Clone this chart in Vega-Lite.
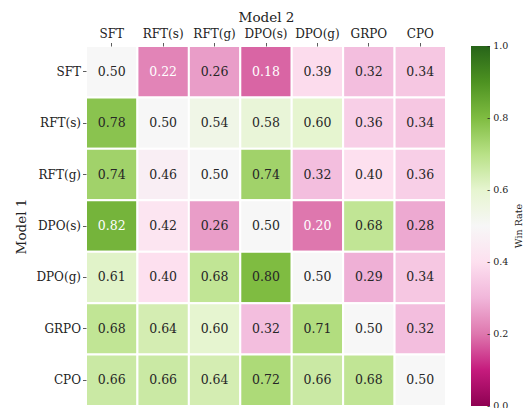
{
  "$schema": "https://vega.github.io/schema/vega-lite/v6.json",
  "width": 360,
  "height": 360,
  "padding": {"left": 14, "top": 10, "right": 0, "bottom": 0},
  "data": {"values": [
    {"m1": "SFT", "m2": "SFT", "v": 0.50}, {"m1": "SFT", "m2": "RFT(s)", "v": 0.22}, {"m1": "SFT", "m2": "RFT(g)", "v": 0.26}, {"m1": "SFT", "m2": "DPO(s)", "v": 0.18}, {"m1": "SFT", "m2": "DPO(g)", "v": 0.39}, {"m1": "SFT", "m2": "GRPO", "v": 0.32}, {"m1": "SFT", "m2": "CPO", "v": 0.34},
    {"m1": "RFT(s)", "m2": "SFT", "v": 0.78}, {"m1": "RFT(s)", "m2": "RFT(s)", "v": 0.50}, {"m1": "RFT(s)", "m2": "RFT(g)", "v": 0.54}, {"m1": "RFT(s)", "m2": "DPO(s)", "v": 0.58}, {"m1": "RFT(s)", "m2": "DPO(g)", "v": 0.60}, {"m1": "RFT(s)", "m2": "GRPO", "v": 0.36}, {"m1": "RFT(s)", "m2": "CPO", "v": 0.34},
    {"m1": "RFT(g)", "m2": "SFT", "v": 0.74}, {"m1": "RFT(g)", "m2": "RFT(s)", "v": 0.46}, {"m1": "RFT(g)", "m2": "RFT(g)", "v": 0.50}, {"m1": "RFT(g)", "m2": "DPO(s)", "v": 0.74}, {"m1": "RFT(g)", "m2": "DPO(g)", "v": 0.32}, {"m1": "RFT(g)", "m2": "GRPO", "v": 0.40}, {"m1": "RFT(g)", "m2": "CPO", "v": 0.36},
    {"m1": "DPO(s)", "m2": "SFT", "v": 0.82}, {"m1": "DPO(s)", "m2": "RFT(s)", "v": 0.42}, {"m1": "DPO(s)", "m2": "RFT(g)", "v": 0.26}, {"m1": "DPO(s)", "m2": "DPO(s)", "v": 0.50}, {"m1": "DPO(s)", "m2": "DPO(g)", "v": 0.20}, {"m1": "DPO(s)", "m2": "GRPO", "v": 0.68}, {"m1": "DPO(s)", "m2": "CPO", "v": 0.28},
    {"m1": "DPO(g)", "m2": "SFT", "v": 0.61}, {"m1": "DPO(g)", "m2": "RFT(s)", "v": 0.40}, {"m1": "DPO(g)", "m2": "RFT(g)", "v": 0.68}, {"m1": "DPO(g)", "m2": "DPO(s)", "v": 0.80}, {"m1": "DPO(g)", "m2": "DPO(g)", "v": 0.50}, {"m1": "DPO(g)", "m2": "GRPO", "v": 0.29}, {"m1": "DPO(g)", "m2": "CPO", "v": 0.34},
    {"m1": "GRPO", "m2": "SFT", "v": 0.68}, {"m1": "GRPO", "m2": "RFT(s)", "v": 0.64}, {"m1": "GRPO", "m2": "RFT(g)", "v": 0.60}, {"m1": "GRPO", "m2": "DPO(s)", "v": 0.32}, {"m1": "GRPO", "m2": "DPO(g)", "v": 0.71}, {"m1": "GRPO", "m2": "GRPO", "v": 0.50}, {"m1": "GRPO", "m2": "CPO", "v": 0.32},
    {"m1": "CPO", "m2": "SFT", "v": 0.66}, {"m1": "CPO", "m2": "RFT(s)", "v": 0.66}, {"m1": "CPO", "m2": "RFT(g)", "v": 0.64}, {"m1": "CPO", "m2": "DPO(s)", "v": 0.72}, {"m1": "CPO", "m2": "DPO(g)", "v": 0.66}, {"m1": "CPO", "m2": "GRPO", "v": 0.68}, {"m1": "CPO", "m2": "CPO", "v": 0.50}
  ]},
  "encoding": {
    "x": {"field": "m2", "type": "nominal", "sort": ["SFT", "RFT(s)", "RFT(g)", "DPO(s)", "DPO(g)", "GRPO", "CPO"], "title": "Model 2",
      "axis": {"orient": "top", "labelAngle": 0, "labelPadding": 2, "titlePadding": 3}},
    "y": {"field": "m1", "type": "nominal", "sort": ["SFT", "RFT(s)", "RFT(g)", "DPO(s)", "DPO(g)", "GRPO", "CPO"], "title": "Model 1",
      "axis": {"labelPadding": 2, "titlePadding": 7}}
  },
  "layer": [
    {
      "mark": {"type": "rect", "stroke": "white", "strokeWidth": 2},
      "encoding": {
        "color": {"field": "v", "type": "quantitative",
          "scale": {"domain": [0, 0.1, 0.2, 0.3, 0.4, 0.5, 0.6, 0.7, 0.8, 0.9, 1.0],
            "range": ["#8e0152", "#c51b7d", "#de77ae", "#f1b6da", "#fde0ef", "#f7f7f7", "#e6f5d0", "#b8e186", "#7fbc41", "#4d9221", "#276419"],
            "interpolate": "rgb"},
          "legend": {"title": "Win Rate", "values": [0, 0.2, 0.4, 0.6, 0.8, 1.0], "format": ".1f",
            "labelExpr": "'- ' + datum.label",
            "gradientLength": 360, "gradientThickness": 19, "gradientStrokeWidth": 0,
            "offset": 25, "labelOffset": -3, "labelFontSize": 9.5, "labelColor": "#222",
            "titleOrient": "right", "titleAnchor": "middle", "titleFontSize": 9.5, "titleFontWeight": "normal", "titleColor": "#222", "titlePadding": 6,
            "encode": {
              "title": {"update": {"angle": {"value": -90}, "align": {"value": "center"}, "baseline": {"value": "top"}}},
              "labels": {"update": {"baseline": {"value": "middle"}}}
            }}
        }
      }
    },
    {
      "mark": {"type": "text", "fontSize": 12.5},
      "encoding": {
        "text": {"field": "v", "type": "quantitative", "format": ".2f"},
        "color": {"condition": {"test": "datum.v < 0.24 || datum.v > 0.81", "value": "white"}, "value": "#262626"}
      }
    }
  ],
  "config": {
    "font": "DejaVu Serif",
    "view": {"stroke": null},
    "axis": {"domain": false, "tickSize": 3.5, "tickWidth": 0.8, "tickColor": "#333", "labelFontSize": 12, "labelColor": "#222",
      "titleFontSize": 13.5, "titleFontWeight": "normal", "titleColor": "#222"}
  }
}
